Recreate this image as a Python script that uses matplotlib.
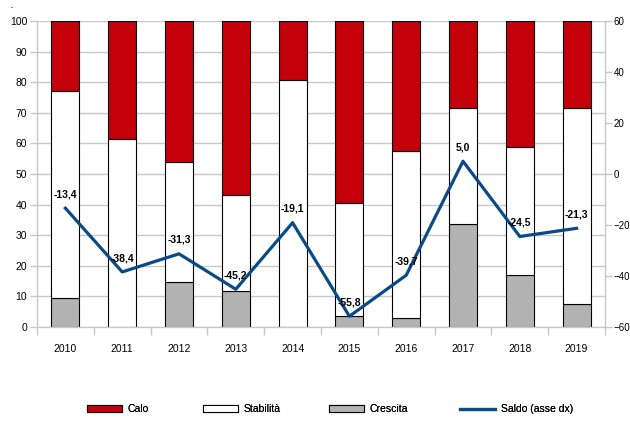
import matplotlib.pyplot as plt
import numpy as np

plt.rcParams['font.family'] = ['Liberation Sans Narrow', 'Liberation Sans', 'DejaVu Sans']

years = ['2010', '2011', '2012', '2013', '2014', '2015', '2016', '2017', '2018', '2019']
crescita = [9.4, 0.0, 14.6, 11.7, 0.0, 3.7, 3.0, 33.8, 16.9, 7.4]
stabilita = [67.8, 61.5, 39.4, 31.5, 80.7, 36.9, 54.5, 37.7, 41.8, 64.1]
calo = [22.8, 38.5, 46.0, 56.8, 19.3, 59.4, 42.5, 28.5, 41.3, 28.5]
saldo = [-13.4, -38.4, -31.3, -45.2, -19.1, -55.8, -39.7, 5.0, -24.5, -21.3]

grid_col = '#c8c8c8'
x = np.arange(len(years))

fig = plt.figure(figsize=(6.3, 4.21), dpi=100)
ax = fig.add_axes([37 / 630, 1 - 327 / 421, 568 / 630, 306 / 421])

bottom2 = np.array(crescita)
bottom3 = bottom2 + np.array(stabilita)
w = 0.49
ax.bar(x, crescita, w, color='#b3b3b3', edgecolor='black', linewidth=0.8, label='Crescita', zorder=2)
ax.bar(x, stabilita, w, bottom=bottom2, color='white', edgecolor='black', linewidth=0.8, label='Stabilità', zorder=2)
ax.bar(x, calo, w, bottom=bottom3, color='#c4000b', edgecolor='black', linewidth=0.8, label='Calo', zorder=2)

ax.set_xlim(-0.5, len(years) - 0.5)
ax.set_ylim(0, 100)
ax.set_yticks(range(0, 101, 10))
ax.yaxis.grid(True, color=grid_col, linewidth=1.0, zorder=0)
ax.set_axisbelow(True)
ax.set_xticks(x)
ax.set_xticklabels(years, fontsize=7.5)
ax.set_xticks(np.arange(-0.5, len(years), 1), minor=True)
ax.tick_params(axis='x', which='major', length=0, pad=12)
ax.tick_params(axis='x', which='minor', length=6, color=grid_col, width=1.0)
ax.tick_params(axis='y', length=5, color=grid_col, width=1.0, labelsize=7.5, pad=2)
for s in ['top', 'right']:
    ax.spines[s].set_visible(False)
for s in ['left', 'bottom']:
    ax.spines[s].set_color(grid_col)
    ax.spines[s].set_linewidth(1.0)

ax2 = ax.twinx()
ax2.plot(x, saldo, color='#0a4a87', linewidth=2.3, label='Saldo (asse dx)', zorder=3)
ax2.set_ylim(-60, 60)
ax2.set_yticks(range(-60, 61, 20))
ax2.tick_params(axis='y', length=5, color=grid_col, width=1.0, labelsize=7, pad=1)
for s in ['top', 'left', 'bottom']:
    ax2.spines[s].set_visible(False)
ax2.spines['right'].set_color(grid_col)
ax2.spines['right'].set_linewidth(1.0)

for xi, v in zip(x, saldo):
    ax2.annotate(f'{v:.1f}'.replace('.', ','), (xi, v), xytext=(0, 10), textcoords='offset points',
                 ha='center', va='center', fontsize=7.5, fontweight='bold', zorder=4)

h1, l1 = ax.get_legend_handles_labels()
h2, l2 = ax2.get_legend_handles_labels()
order = [2, 1, 0]
handles = [h1[i] for i in order] + h2
labels = [l1[i] for i in order] + l2
# one legend per entry so each sits where the reference puts it
leg_x = [87, 203, 329, 460]
for hnd, lab, lx in zip(handles, labels, leg_x):
    lg = fig.legend([hnd], [lab], loc='center left', bbox_to_anchor=(lx / 630, 1 - 409 / 421),
                    frameon=False, fontsize=7.5, handlelength=3.4, handleheight=0.6,
                    handletextpad=0.5, borderpad=0, borderaxespad=0)
    fig.add_artist(lg)

fig.text(12 / 630, 1 - 8 / 421, '-', fontsize=5, ha='center', va='center')

fig.savefig('out.png', dpi=100)
